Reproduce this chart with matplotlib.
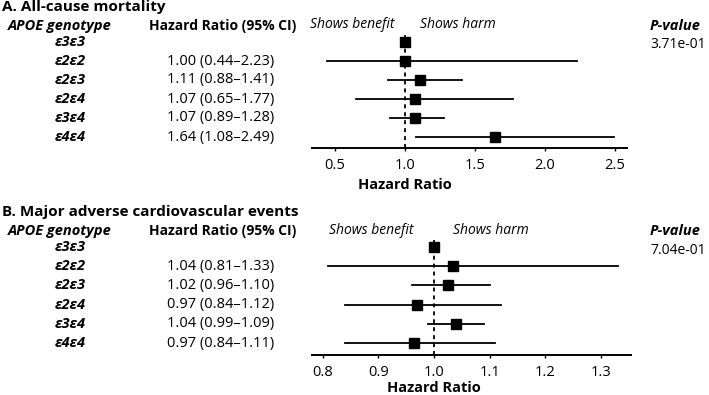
import matplotlib
matplotlib.use("Agg")
import matplotlib.pyplot as plt

plt.rcParams['font.family'] = ['Open Sans', 'DejaVu Sans']

genotypes = ["ε3ε3", "ε2ε2", "ε2ε3", "ε2ε4", "ε3ε4", "ε4ε4"]

# Panel A: All-cause mortality
a_hr = [1.00, 1.00, 1.11, 1.07, 1.07, 1.64]
a_lo = [None, 0.44, 0.88, 0.65, 0.89, 1.08]
a_hi = [None, 2.23, 1.41, 1.77, 1.28, 2.49]
a_labels = ["", "1.00 (0.44–2.23)", "1.11 (0.88–1.41)", "1.07 (0.65–1.77)",
            "1.07 (0.89–1.28)", "1.64 (1.08–2.49)"]
a_ticks = [0.5, 1.0, 1.5, 2.0, 2.5]
a_p = "3.71e-01"

# Panel B: Major adverse cardiovascular events
b_hr = [1.00, 1.035, 1.025, 0.97, 1.04, 0.965]
b_lo = [None, 0.81, 0.96, 0.84, 0.99, 0.84]
b_hi = [None, 1.33, 1.10, 1.12, 1.09, 1.11]
b_labels = ["", "1.04 (0.81–1.33)", "1.02 (0.96–1.10)", "0.97 (0.84–1.12)",
            "1.04 (0.99–1.09)", "0.97 (0.84–1.11)"]
b_ticks = [0.8, 0.9, 1.0, 1.1, 1.2, 1.3]
b_p = "7.04e-01"

W, H = 709, 395
fig = plt.figure(figsize=(W / 100, H / 100), dpi=100)

FS = 10.5


def fx(x):
    return x / W


def fy(y):
    return 1 - y / H


def panel(title, title_y, head_y, row0, step, axis_y, ax_left, ax_right,
          xlim, hr, lo, hi, labels, ticks, pval, xlabel_y, benefit_gap, harm_gap):
    fig.text(fx(2), fy(title_y), title, fontsize=11, fontweight='bold',
             ha='left', va='center')
    fig.text(fx(60), fy(head_y), "APOE genotype", fontsize=10.5,
             fontweight='bold', fontstyle='italic', ha='center', va='center')
    fig.text(fx(223), fy(head_y), "Hazard Ratio (95% CI)", fontsize=10,
             fontweight='bold', ha='center', va='center')
    fig.text(fx(650), fy(head_y), "P-value", fontsize=10.5,
             fontweight='bold', fontstyle='italic', ha='left', va='center')
    fig.text(fx(650), fy(head_y + 19), pval, fontsize=10, ha='left', va='center')
    for i, (g, lab) in enumerate(zip(genotypes, labels)):
        y = row0 + step * i
        fig.text(fx(86), fy(y), g, fontsize=10.5, fontweight='bold',
                 fontstyle='italic', ha='right', va='center')
        if lab:
            fig.text(fx(221), fy(y), lab, fontsize=FS, ha='center', va='center')

    top_i = -0.65
    bot_i = (axis_y - row0) / step
    top_px = row0 + step * top_i
    ax = fig.add_axes([fx(ax_left), fy(axis_y), (ax_right - ax_left) / W,
                       (axis_y - top_px) / H])
    ax.set_xlim(*xlim)
    ax.set_ylim(bot_i, top_i)
    for s in ['top', 'right', 'left']:
        ax.spines[s].set_visible(False)
    ax.spines['bottom'].set_linewidth(1.4)
    ax.set_yticks([])
    ax.set_xticks(ticks)
    ax.set_xticklabels([f"{t:.1f}" for t in ticks], fontsize=FS)
    ax.tick_params(axis='x', length=2.5, width=1, pad=5)
    ax.patch.set_alpha(0)
    ax.axvline(1.0, ymin=0, ymax=(bot_i - (-0.35)) / (bot_i - top_i),
               color='black', ls=(0, (2.2, 2.2)), lw=1.3, zorder=1)
    for i in range(len(hr)):
        if lo[i] is not None:
            ax.plot([lo[i], hi[i]], [i, i], color='black', lw=1.3, zorder=2)
        ax.plot(hr[i], i, marker='s', color='black', ms=6.5, zorder=3)
    xl_x = ax.transData.transform((1.0, 0))[0] / fig.dpi / fig.get_size_inches()[0]
    fig.text(xl_x, fy(xlabel_y), "Hazard Ratio", fontsize=FS,
             fontweight='bold', ha='center', va='center')
    one_px = ax.transData.transform((1.0, 0))[0] / fig.dpi * 100
    fig.text(fx(one_px - benefit_gap), fy(head_y - 1), "Shows benefit", fontsize=10,
             fontstyle='italic', ha='right', va='center')
    fig.text(fx(one_px + harm_gap), fy(head_y - 1), "Shows harm", fontsize=10,
             fontstyle='italic', ha='left', va='center')
    return ax


panel("A. All-cause mortality", 7, 26, 42, 19, 148, 312, 627,
      (0.336, 2.586), a_hr, a_lo, a_hi, a_labels, a_ticks, a_p, 185, 10, 15)
panel("B. Major adverse cardiovascular events", 212, 231, 247, 19.2, 355, 312, 631,
      (0.781, 1.354), b_hr, b_lo, b_hi, b_labels, b_ticks, b_p, 388, 20, 19)

fig.savefig("out.png", dpi=100)
